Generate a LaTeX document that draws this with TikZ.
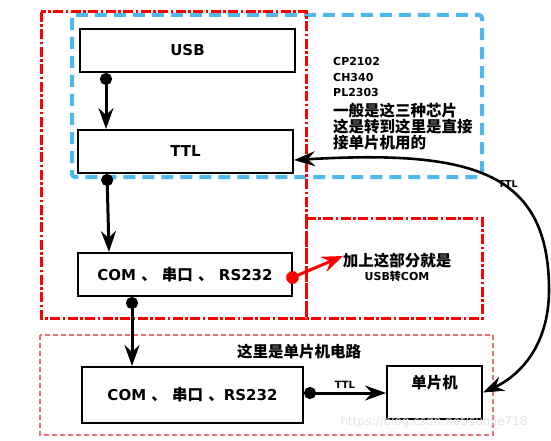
\documentclass[tikz,border=0pt]{standalone}
\usepackage{fontspec}
\setmainfont{DejaVu Sans}
\newfontfamily\cjk{Noto Sans CJK SC}
\usetikzlibrary{arrows.meta, positioning}
\definecolor{frameblue}{RGB}{80,185,235}
\definecolor{framepink}{RGB}{240,110,120}
\newcommand\zh[1]{{\cjk\fontsize{15.5}{16}\selectfont#1}}

\begin{document}
\begin{tikzpicture}[x=1pt, y=-1pt,
  >={Stealth[length=21pt,width=15pt,inset=7pt]},
  box/.style={draw, line width=2pt, minimum width=215pt, minimum height=43pt, inner sep=0pt, font=\fontsize{15}{16}\selectfont\bfseries},
  link/.style={line width=3pt, {Circle[length=12pt]}->},
  redframe/.style={red, line width=3pt, dash pattern=on 10pt off 2.5pt on 2.5pt off 2.5pt},
  note/.style={font=\fontsize{11}{15.5}\selectfont\bfseries, inner sep=0pt}
]
\useasboundingbox (0,0) rectangle (551,441);
% frames
\draw[frameblue, line width=4pt, dash pattern=on 12pt off 7pt, rounded corners=3pt] (72,15) rectangle (482,177);
\draw[redframe] (41,12) rectangle (306,318);
\draw[redframe] (306,218) rectangle (482,318);
\draw[framepink, line width=1.2pt, dash pattern=on 5pt off 3pt] (40,335) rectangle (493,435);
% blocks
\node[box] (usb) at (187.5,50.5) {USB};
\node[box] (ttl) at (185.5,151.5) {TTL};
\node[box, minimum width=214pt] (com1) at (185,274.5) {COM {\zh{、}} \zh{串口} {\zh{、}} RS232};
\node[box, minimum width=221pt, minimum height=56pt] (com2) at (192.5,395) {COM {\zh{、}} \zh{串口} {\zh{、}}RS232};
\node[box, minimum width=95pt, minimum height=53pt, text height=13pt, text depth=21pt] (mcu) at (434.5,392.5) {\zh{单片机}};
% notes
\node[note, anchor=north west, align=left] (chips) at (333,57.5) {CP2102\\CH340\\PL2303};
\node[note, anchor=north west, align=left, font=\cjk\fontsize{15.5}{16}\selectfont\bfseries] (chipnote) at (333,103) {一般是这三种芯片\\这是转到这里是直接\\接单片机用的};
\node[note, align=center, font=\fontsize{11}{14}\selectfont\bfseries] (usbcom) at (397,267) {\zh{加上这部分就是}\\USB{\cjk 转}COM};
\node[note, font=\cjk\fontsize{15.5}{16}\selectfont\bfseries] (mcutitle) at (299,352) {这里是单片机电路};
\node[note, font=\fontsize{9.5}{11}\selectfont\bfseries] (ttlnote) at (508,184) {TTL};
\node[text=gray!22, font=\fontsize{12}{14}\selectfont] (mark) at (434,422) {https://blog.csdn.net/sunjie718};
% links
\draw[link] ([xshift=27pt]usb.south west) -- ([xshift=29pt]ttl.north west);
\draw[link] ([xshift=30pt]ttl.south west) -- ([xshift=32pt]com1.north west);
\draw[link] ([xshift=55pt]com1.south west) -- ([xshift=51pt]com2.north west);
\draw[link] ([yshift=2pt]com2.east) -- ([yshift=2pt]com2.east -| mcu.west) node[midway, above=3pt, note, font=\fontsize{10}{12}\selectfont\bfseries] (ttllink) {TTL};
\coordinate (redtip) at (343,256);
\draw[red, line width=3pt, {Circle[length=13pt]}-{Stealth[length=21pt,width=16pt,inset=7pt]}] ([xshift=-6.5pt,yshift=-5.5pt]com1.east) -- (redtip);
\draw[line width=2.6pt, <->] ([yshift=-8.5pt]ttl.east) .. controls (470,150) and (549,170) .. (549,290) .. controls (549,350) and (515,378) .. (mcu.east);
\end{tikzpicture}
\end{document}
